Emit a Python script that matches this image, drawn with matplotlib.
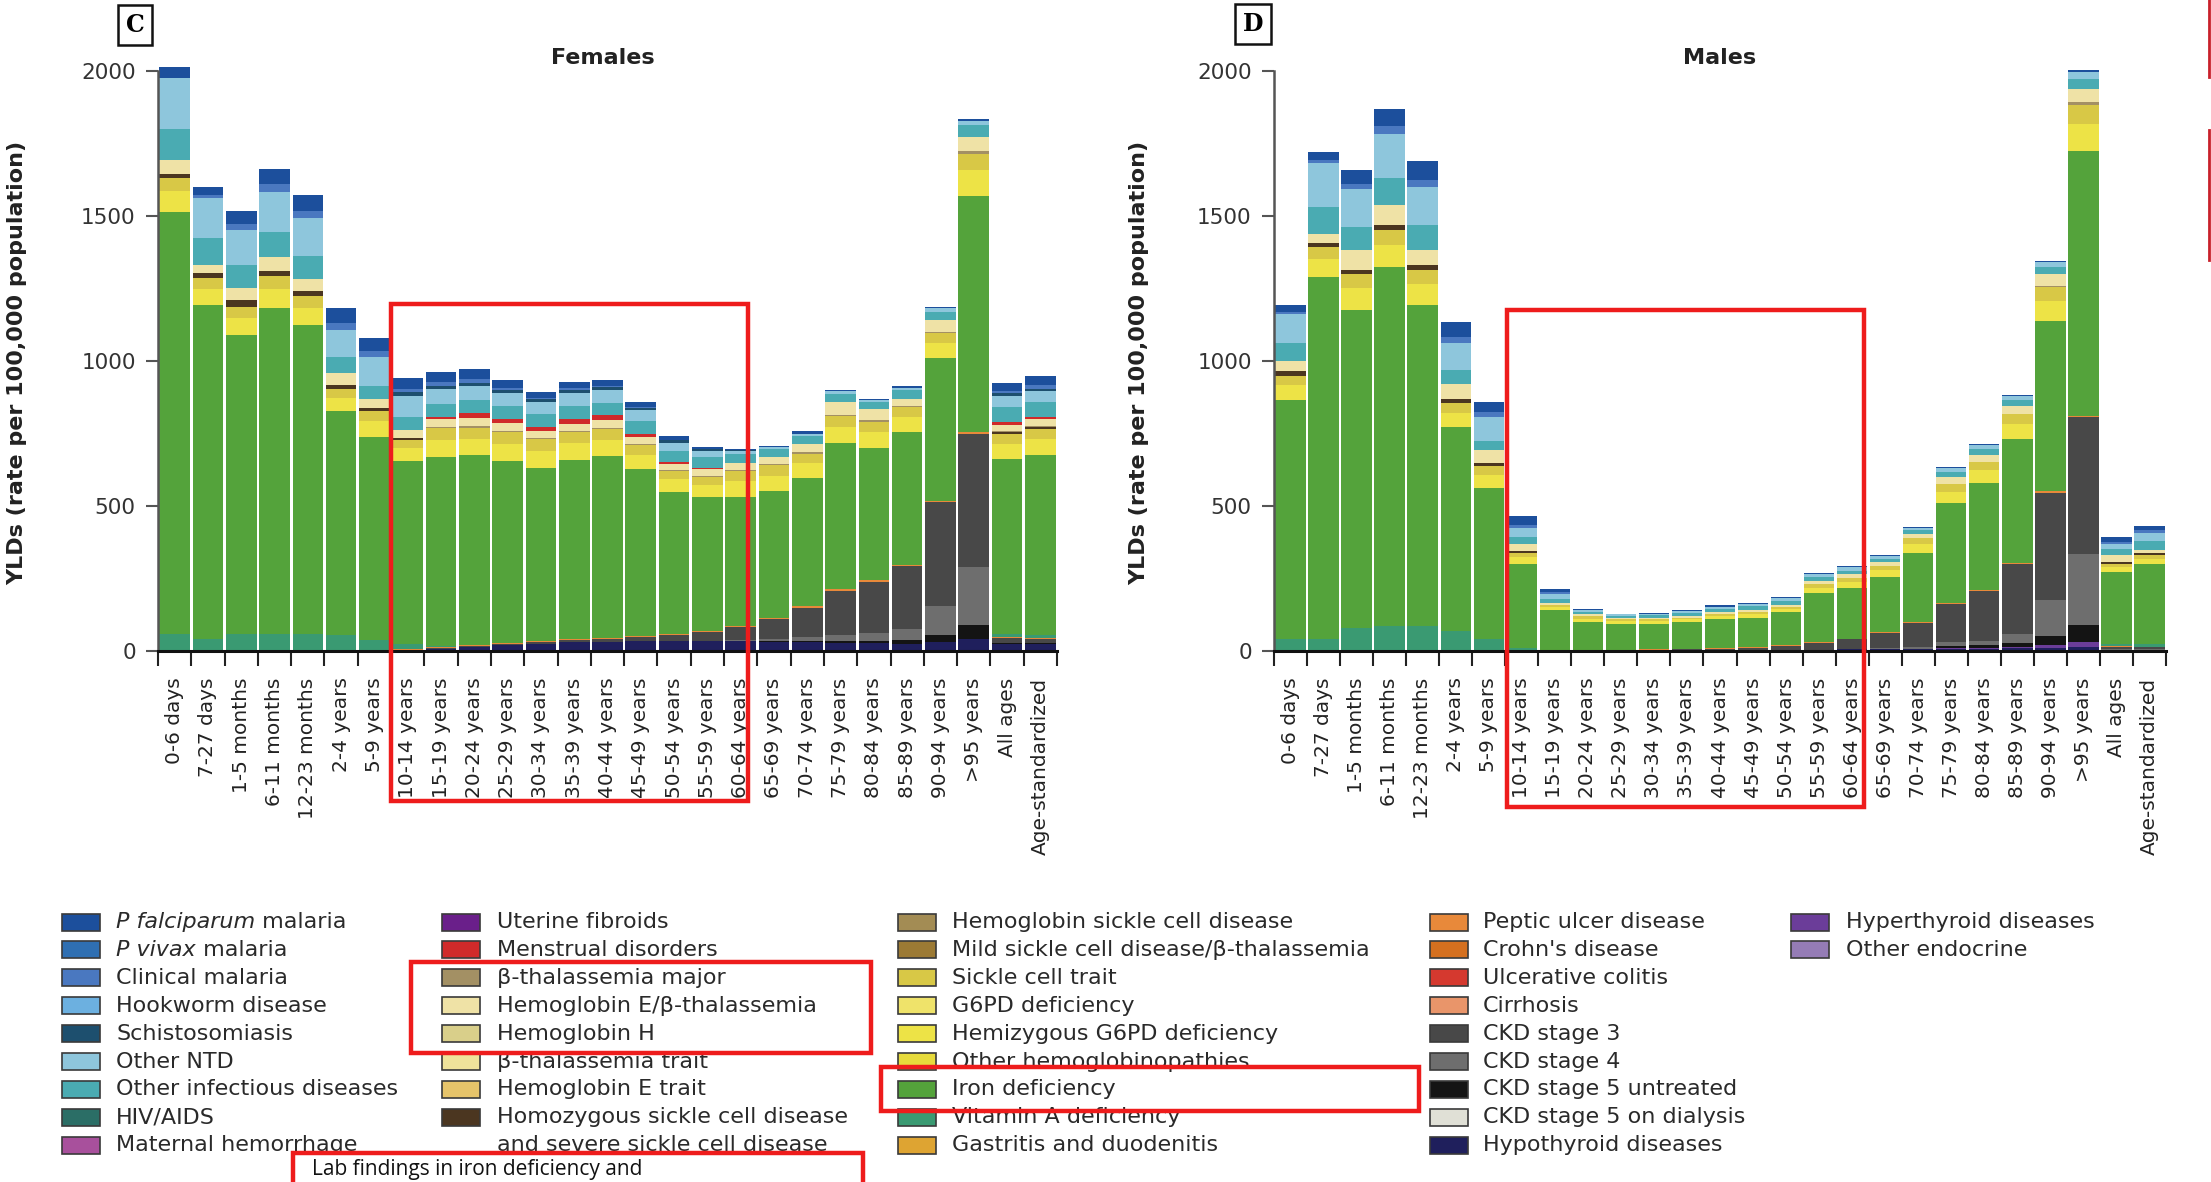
import matplotlib
matplotlib.use("Agg")
import matplotlib.pyplot as plt
from matplotlib.patches import Rectangle
import numpy as np

W, H = 2211, 1182

# ---------------- data ----------------
categories = ["0-6 days", "7-27 days", "1-5 months", "6-11 months", "12-23 months",
              "2-4 years", "5-9 years", "10-14 years", "15-19 years", "20-24 years",
              "25-29 years", "30-34 years", "35-39 years", "40-44 years", "45-49 years",
              "50-54 years", "55-59 years", "60-64 years", "65-69 years", "70-74 years",
              "75-79 years", "80-84 years", "85-89 years", "90-94 years", ">95 years",
              "All ages", "Age-standardized"]

# Females (YLDs per 100,000), stacked bottom -> top
hypo_f    = [0,0,0,0,0,0,2, 5,8,15,20,25,30,32,33,33,33,33, 32,30,28,26,25,30,40, 25,25]
endo_f    = [0,0,0,0,0,0,0, 0,0,0,0,0,0,0,0,0,0,0, 0,0,0,0,0,0,0, 0,0]
ckd5u_f   = [0,0,0,0,0,0,0, 0,0,0,0,0,0,0,0,0,0,0, 2,4,8,10,12,25,50, 1,1]
ckd4_f    = [0,0,0,0,0,0,0, 0,0,0,0,0,0,0,0,0,2,4, 8,15,20,25,40,100,200, 3,2]
ckd3_f    = [0,0,0,0,0,0,0, 0,2,3,5,7,8,10,15,22,30,45, 68,101,152,178,215,358,460, 15,12]
peptic_f  = [0,0,0,0,0,0,0, 3,3,3,3,3,3,3,3,3,3,3, 5,5,5,5,5,5,5, 4,4]
vita_f    = [60,40,60,60,60,55,35, 15,5,0,0,0,0,0,0,0,0,0, 0,0,0,0,0,0,0, 10,12]
iron_f    = [1455,1152,1029,1124,1063,772,701, 631,651,656,626,596,617,629,576,491,463,446,
             438,442,503,456,457,491,813, 604,621]
hemi_f    = [70,55,60,65,60,45,55, 45,60,55,60,60,58,55,50,43,42,55, 52,50,56,54,52,52,90, 53,53]
trait_f   = [45,38,38,43,40,33,33, 27,39,38,41,39,39,36,33,28,27,34, 35,33,38,36,34,34,57, 35,35]
homoz_f   = [15,20,25,18,17,13,12, 8,0,0,0,0,0,0,0,0,0,0, 0,0,0,0,0,0,0, 4,6]
betamaj_f = [0,0,0,0,0,0,0, 0,6,6,5,5,5,5,5,5,5,5, 5,5,5,5,5,6,10, 4,4]
hbe_f     = [47,25,41,47,44,39,31, 27,26,29,27,22,24,27,23,21,23,25, 25,30,45,40,25,39,46, 22,25]
menst_f   = [0,0,0,0,0,0,0, 0,7,17,13,15,16,18,12,6,4,0, 0,0,0,0,0,0,0, 10,8]
othinf_f  = [108,93,77,89,77,58,46, 46,46,43,45,46,45,40,42,38,38,30, 25,25,25,25,30,30,44, 50,52]
ntd_f     = [176,138,123,138,131,92,100, 73,52,50,45,42,45,45,38,28,20,10, 8,10,10,6,8,12,13, 40,35]
schisto_f = [0,0,0,0,0,0,0, 12,10,10,10,9,10,10,8,8,5,4, 0,0,0,0,0,0,0, 8,10]
clin_f    = [0,10,20,25,25,25,20, 12,12,12,8,5,6,5,5,3,2,0, 0,0,0,0,0,0,0, 10,12]
pfal_f    = [39,29,45,52,56,52,45, 37,34,35,27,18,20,20,15,12,7,4, 5,7,5,4,5,4,5, 26,33]

# Males
hypo_m    = [0,0,0,0,0,0,0, 1,1,1,1,2,2,3,3,4,5,6, 7,8,8,8,10,12,15, 4,4]
endo_m    = [0,0,0,0,0,0,0, 0,0,0,0,0,0,0,0,0,0,0, 0,0,2,3,4,10,16, 0,0]
ckd5u_m   = [0,0,0,0,0,0,0, 0,0,0,0,0,0,0,0,0,0,0, 0,0,8,10,15,30,60, 1,1]
ckd4_m    = [0,0,0,0,0,0,0, 0,0,0,0,0,0,0,0,0,0,0, 3,6,12,15,30,123,243, 2,2]
ckd3_m    = [0,0,0,0,0,0,0, 0,0,0,0,2,4,5,9,14,23,34, 52,81,131,172,241,371,473, 8,6]
peptic_m  = [0,0,0,0,0,0,0, 0,0,0,0,2,2,2,2,2,3,3, 4,4,4,4,5,5,5, 2,2]
vita_m    = [40,40,80,85,85,70,40, 10,3,0,0,0,0,0,0,0,0,0, 0,0,0,0,0,0,0, 8,8]
iron_m    = [826,1249,1097,1238,1107,702,521, 289,137,99,91,86,92,101,101,115,169,175,
             188,239,346,369,426,587,911, 249,277]
hemi_m    = [50,62,74,78,74,50,46, 23,11,12,11,11,9,9,12,10,18,21, 24,30,38,43,51,70,95, 16,18]
trait_m   = [34,41,49,52,49,33,31, 15,7,8,7,7,6,6,8,7,12,14, 16,20,26,28,34,46,64, 10,12]
homoz_m   = [15,16,15,16,15,15,12, 8,0,0,0,0,0,0,0,0,0,0, 0,0,0,0,0,0,0, 6,8]
betamaj_m = [0,0,0,0,0,0,0, 0,0,0,0,0,0,0,0,0,0,0, 0,0,0,0,0,6,10, 0,0]
hbe_m     = [35,30,69,69,54,50,42, 23,7,6,5,5,6,7,7,8,12,12, 12,16,25,25,30,40,46, 25,12]
menst_m   = [0,0,0,0,0,0,0, 0,0,0,0,0,0,0,0,0,0,0, 0,0,0,0,0,0,0, 0,0]
othinf_m  = [61,92,77,92,85,49,31, 23,14,10,6,8,10,12,12,12,12,12, 12,12,18,20,20,25,35, 20,30]
ntd_m     = [100,154,131,154,131,92,85, 31,17,6,5,5,6,8,8,10,12,12, 10,8,12,14,14,16,25, 18,28]
schisto_m = [0,0,0,0,0,0,0, 0,0,0,0,0,0,0,0,0,0,0, 0,0,0,0,0,0,0, 0,0]
clin_m    = [8,10,20,25,25,22,15, 12,5,0,0,0,0,0,0,0,0,0, 0,0,0,0,0,0,0, 8,8]
pfal_m    = [23,26,46,60,64,52,35, 29,13,4,0,3,4,4,4,3,3,3, 3,4,4,4,4,5,6, 15,15]

# legend (5 columns)
legend_cols = [
    [("P falciparum malaria", "#1c4f9c"), ("P vivax malaria", "#2f6fb2"),
     ("Clinical malaria", "#4a78c0"), ("Hookworm disease", "#6cb0e0"),
     ("Schistosomiasis", "#1d4f6e"), ("Other NTD", "#8ec6dc"),
     ("Other infectious diseases", "#4aabb2"), ("HIV/AIDS", "#2b6e66"),
     ("Maternal hemorrhage", "#a8509c")],
    [("Uterine fibroids", "#6a1f8a"), ("Menstrual disorders", "#d02a2a"),
     ("β-thalassemia major", "#a39064"), ("Hemoglobin E/β-thalassemia", "#efe2a6"),
     ("Hemoglobin H", "#d9cf8a"), ("β-thalassemia trait", "#efe39a"),
     ("Hemoglobin E trait", "#e6c46a"),
     ("Homozygous sickle cell disease\nand severe sickle cell disease", "#4b3620")],
    [("Hemoglobin sickle cell disease", "#a38c54"),
     ("Mild sickle cell disease/β-thalassemia", "#9c7a34"),
     ("Sickle cell trait", "#d8c846"), ("G6PD deficiency", "#efe36a"),
     ("Hemizygous G6PD deficiency", "#ede346"), ("Other hemoglobinopathies", "#e7db3c"),
     ("Iron deficiency", "#54a33b"), ("Vitamin A deficiency", "#3a9a72"),
     ("Gastritis and duodenitis", "#dea432")],
    [("Peptic ulcer disease", "#e8893a"), ("Crohn's disease", "#d5701f"),
     ("Ulcerative colitis", "#d5392f"), ("Cirrhosis", "#e9956a"),
     ("CKD stage 3", "#484848"), ("CKD stage 4", "#6e6e6e"),
     ("CKD stage 5 untreated", "#141414"), ("CKD stage 5 on dialysis", "#e0e0d6"),
     ("Hypothyroid diseases", "#1f1f5c")],
    [("Hyperthyroid diseases", "#6b3d99"), ("Other endocrine", "#957cb6")],
]
color_of = {lab: c for col in legend_cols for lab, c in col}

layer_f = [("Hypothyroid diseases", hypo_f), ("Hyperthyroid diseases", endo_f),
           ("CKD stage 5 untreated", ckd5u_f), ("CKD stage 4", ckd4_f), ("CKD stage 3", ckd3_f),
           ("Peptic ulcer disease", peptic_f), ("Vitamin A deficiency", vita_f),
           ("Iron deficiency", iron_f), ("Hemizygous G6PD deficiency", hemi_f),
           ("Sickle cell trait", trait_f),
           ("Homozygous sickle cell disease\nand severe sickle cell disease", homoz_f),
           ("β-thalassemia major", betamaj_f), ("Hemoglobin E/β-thalassemia", hbe_f),
           ("Menstrual disorders", menst_f), ("Other infectious diseases", othinf_f),
           ("Other NTD", ntd_f), ("Schistosomiasis", schisto_f),
           ("Clinical malaria", clin_f), ("P falciparum malaria", pfal_f)]
layer_m = [("Hypothyroid diseases", hypo_m), ("Hyperthyroid diseases", endo_m),
           ("CKD stage 5 untreated", ckd5u_m), ("CKD stage 4", ckd4_m), ("CKD stage 3", ckd3_m),
           ("Peptic ulcer disease", peptic_m), ("Vitamin A deficiency", vita_m),
           ("Iron deficiency", iron_m), ("Hemizygous G6PD deficiency", hemi_m),
           ("Sickle cell trait", trait_m),
           ("Homozygous sickle cell disease\nand severe sickle cell disease", homoz_m),
           ("β-thalassemia major", betamaj_m), ("Hemoglobin E/β-thalassemia", hbe_m),
           ("Menstrual disorders", menst_m), ("Other infectious diseases", othinf_m),
           ("Other NTD", ntd_m), ("Schistosomiasis", schisto_m),
           ("Clinical malaria", clin_m), ("P falciparum malaria", pfal_m)]

# ---------------- figure ----------------
plt.rcParams["font.family"] = ["DejaVu Sans"]
fig = plt.figure(figsize=(W / 100, H / 100), dpi=100)
fig.patch.set_facecolor("white")


def fx(x):
    return x / W


def fy(y):
    return 1 - y / H


y0_px, ytop_px = 651, 71
ymax = 2060
ax_h = ((y0_px - ytop_px) * ymax / 2000) / H


def make_axes(left_px, right_px):
    return fig.add_axes([fx(left_px), fy(y0_px), (right_px - left_px) / W, ax_h])


def draw_panel(ax, layers):
    x = np.arange(len(categories))
    bottom = np.zeros(len(categories))
    for lab, vals in layers:
        v = np.array(vals, dtype=float)
        ax.bar(x, v, bottom=bottom, width=0.92, color=color_of[lab], linewidth=0, zorder=2)
        bottom += v
    ax.set_xlim(-0.5, len(categories) - 0.5)
    ax.set_ylim(0, ymax)
    for s in ["top", "right"]:
        ax.spines[s].set_visible(False)
    ax.spines["left"].set_bounds(0, 2000)
    ax.spines["left"].set_color("#555555")
    ax.spines["left"].set_linewidth(1.8)
    ax.spines["bottom"].set_color("#111111")
    ax.spines["bottom"].set_linewidth(2.2)
    ax.set_yticks([0, 500, 1000, 1500, 2000])
    ax.tick_params(axis="y", length=9, width=1.5, color="#555555", labelsize=15.5,
                   labelcolor="#333333", pad=7)
    ax.set_xticks(np.arange(-0.5, len(categories), 1))
    ax.set_xticklabels([])
    ax.tick_params(axis="x", which="major", length=11, width=1.5, color="#222222")
    ax.set_xticks(np.arange(len(categories)), minor=True)
    ax.set_xticklabels(categories, minor=True, rotation=90, fontsize=14.5, color="#222222")
    ax.tick_params(axis="x", which="minor", length=0, pad=19)


axF = make_axes(158, 1057)
draw_panel(axF, layer_f)
axM = make_axes(1274, 2166)
draw_panel(axM, layer_m)

# titles, panel letters, y labels
fig.text(fx(603), fy(58), "Females", ha="center", va="center", fontsize=16, fontweight="bold",
         color="#222222")
fig.text(fx(1720), fy(58), "Males", ha="center", va="center", fontsize=16, fontweight="bold",
         color="#222222")
for lx, ly, letter in [(135, 25, "C"), (1253, 24, "D")]:
    fig.text(fx(lx), fy(ly), letter, ha="center", va="center", fontsize=17, fontweight="bold",
             family="DejaVu Serif",
             bbox=dict(boxstyle="square,pad=0.32", fc="white", ec="#111111", lw=1.8))
for lx in (17, 1139):
    fig.text(fx(lx), fy(363), "YLDs (rate per 100,000 population)", rotation=90,
             ha="center", va="center", fontsize=16, fontweight="bold", color="#222222")

# ---------------- legend ----------------
patch_x = [62, 442, 898, 1430, 1791]
text_x = [116, 497, 952, 1483, 1846]
row_y0, row_dy = 922, 27.9
pw, ph = 38, 17
fig.canvas.draw()
renderer = fig.canvas.get_renderer()
for ci, col in enumerate(legend_cols):
    for ri, (lab, c) in enumerate(col):
        yc = row_y0 + ri * row_dy
        fig.add_artist(Rectangle((fx(patch_x[ci]), fy(yc + ph / 2)), pw / W, ph / H,
                                 transform=fig.transFigure, fc=c, ec="#3a3a3a", lw=1.2))
        if lab.startswith("P ") and "malaria" in lab:
            ital = lab.replace(" malaria", "")
            t = fig.text(fx(text_x[ci]), fy(yc), ital, fontsize=16, style="italic",
                         va="center", ha="left", color="#2a2a2a")
            bb = t.get_window_extent(renderer=renderer)
            fig.text(bb.x1 / W, fy(yc), " malaria", fontsize=16, va="center", ha="left",
                     color="#2a2a2a")
        elif "\n" in lab:
            l1, l2 = lab.split("\n")
            fig.text(fx(text_x[ci]), fy(yc), l1, fontsize=16, va="center", ha="left",
                     color="#2a2a2a")
            fig.text(fx(text_x[ci]), fy(yc + row_dy), l2, fontsize=16, va="center",
                     ha="left", color="#2a2a2a")
        else:
            fig.text(fx(text_x[ci]), fy(yc), lab, fontsize=16, va="center", ha="left",
                     color="#2a2a2a")

# ---------------- red annotation boxes ----------------
red = "#ee1c1c"
boxes = [(391, 304, 748, 801), (1507, 310, 1864, 807),
         (411, 962, 871, 1053), (881, 1067, 1419, 1111), (293, 1153, 863, 1200)]
for x0, y0b, x1, y1b in boxes:
    fig.add_artist(Rectangle((fx(x0), fy(y1b)), (x1 - x0) / W, (y1b - y0b) / H,
                             transform=fig.transFigure, fill=False, ec=red, lw=3.2, zorder=20))
fig.text(fx(312), fy(1159), "Lab findings in iron deficiency and", fontsize=15,
         family="Open Sans", va="top", ha="left", color="#111111")
for ya, yb in [(0, 77), (130, 260)]:
    fig.add_artist(plt.Line2D([fx(2209), fx(2209)], [fy(ya), fy(yb)],
                              transform=fig.transFigure, color="#c8202a", lw=2))

fig.savefig("out.png", dpi=100, facecolor="white")
